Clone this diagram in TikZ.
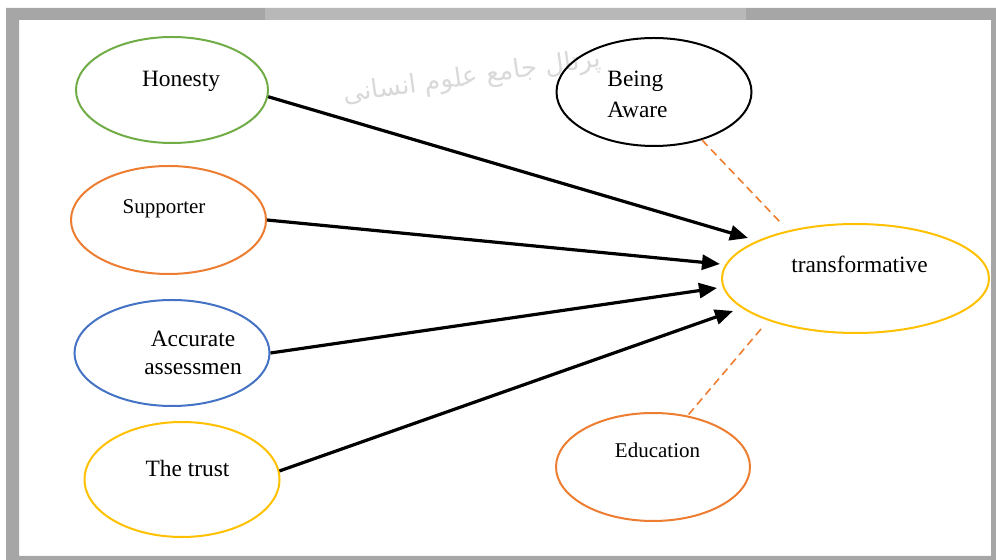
\documentclass[tikz,border=0pt]{standalone}
\usepackage{fontspec}
\setmainfont{Liberation Serif}
\newfontfamily\arabicfont[Script=Arabic]{DejaVu Sans}
\TeXXeTstate=1
\usetikzlibrary{shapes.geometric,arrows.meta}
\definecolor{ogreen}{RGB}{112,173,71}
\definecolor{oorange}{RGB}{237,125,49}
\definecolor{oblue}{RGB}{68,114,196}
\definecolor{oyellow}{RGB}{255,192,0}
\definecolor{framegray}{RGB}{166,166,166}

\begin{document}
\begin{tikzpicture}[x=0.5pt,y=-0.5pt,
  oval/.style={ellipse,draw,line width=1pt,inner sep=0pt},
  lbl/.style={anchor=base,inner sep=0pt,font=\fontsize{11.7}{14}\selectfont},
  small/.style={anchor=base,inner sep=0pt,font=\fontsize{10.5}{12.6}\selectfont},
  arr/.style={-{Triangle[length=9pt,width=7.5pt]},line width=1.6pt},
  dsh/.style={oorange,line width=0.8pt,dash pattern=on 4pt off 2.5pt}]
\useasboundingbox (0,0) rectangle (996,560);
\fill[framegray,even odd rule] (6,8) rectangle (996,560) (19,20) rectangle (991,556);
\fill[framegray!80] (265,8) rectangle (746,20);
\node[gray!30,rotate=8,font=\arabicfont\fontsize{13}{15}\selectfont] (mark) at (472,78) {\beginR پرتال جامع علوم انسانی\endR};

\node[oval,ogreen,minimum width=96pt,minimum height=53pt] (honesty) at (172,90) {};
\node[oval,oorange,minimum width=97.5pt,minimum height=54pt] (supporter) at (168.5,220) {};
\node[oval,oblue,minimum width=97.5pt,minimum height=53pt] (accurate) at (172,353) {};
\node[oval,oyellow,minimum width=97.5pt,minimum height=57.5pt] (trust) at (182,479.5) {};
\node[oval,black,minimum width=97.5pt,minimum height=54pt] (aware) at (654,92) {};
\node[oval,oyellow,minimum width=133.5pt,minimum height=54.5pt] (trans) at (855.5,278.5) {};
\node[oval,oorange,minimum width=97pt,minimum height=54pt] (education) at (653,467) {};

\node[lbl] (honesty-t) at (181,86.7) {Honesty};
\node[small] (supporter-t) at (164,213.3) {Supporter};
\node[lbl,align=center] (accurate-t) at (193,375) {Accurate\\assessmen};
\node[lbl] (trust-t) at (187.5,476.7) {The trust};
\node[lbl,anchor=base west,align=left,font=\fontsize{11.7}{15.5}\selectfont] (aware-t) at (607,118) {Being\\Aware};
\node[lbl] (trans-t) at (859.5,272.7) {transformative};
\node[small] (education-t) at (657.5,458) {Education};

\coordinate (t1) at (748,238);
\coordinate (t2) at (720,264);
\coordinate (t3) at (717,288);
\coordinate (t4) at (733,311);
\foreach \s/\t in {honesty.-4/t1,supporter.east/t2,accurate.east/t3,trust.5/t4}
{
\draw[arr] (\s) -- (\t);
}

\coordinate (d1) at (780,222);
\coordinate (d2) at (761,329);
\draw[dsh] (aware.-45) -- (d1);
\draw[dsh] (d2) -- (education.56);

\end{tikzpicture}
\end{document}
